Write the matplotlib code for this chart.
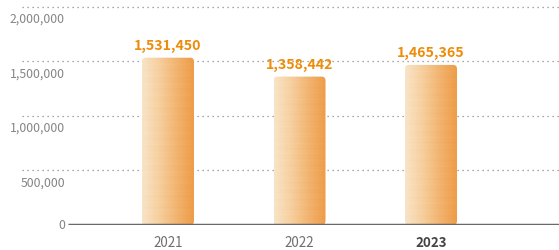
import numpy as np
import matplotlib
matplotlib.use("Agg")
import matplotlib.pyplot as plt
from matplotlib.patches import FancyBboxPatch
from matplotlib.colors import LinearSegmentedColormap

years = ["2021", "2022", "2023"]
values = [1531450, 1358442, 1465365]
value_labels = ["1,531,450", "1,358,442", "1,465,365"]
grid_values = [500000, 1000000, 1500000, 2000000]
grid_labels = ["500,000", "1,000,000", "1,500,000", "2,000,000"]

plt.rcParams["font.family"] = ["Noto Sans CJK KR", "DejaVu Sans"]

W, H = 559, 251
fig = plt.figure(figsize=(W / 100, H / 100), dpi=100)
# axes from x=22px to right edge, baseline at y=226px
ax = fig.add_axes([22 / W, 25 / H, 1 - 22 / W, 226 / H])
ymax = 226 / 218.5 * 2000000
ax.set_ylim(0, ymax)
ax.set_xlim(-146 / 131.5, (559 - 168) / 131.5)
ax.axis("off")

# dotted grid
for v in grid_values:
    ax.axhline(v, color="#8a8a8a", lw=0.9, linestyle=(0, (1, 3)), zorder=1)

# y labels sit a bit below their grid line
for v, lab in zip(grid_values, grid_labels):
    ax.annotate(lab, (65, v), xycoords=("figure pixels", "data"),
                xytext=(0, -8.5), textcoords="offset points",
                ha="right", va="center", fontsize=8.8, color="#858585")
ax.annotate("0", (65, 0), xycoords=("figure pixels", "data"),
            xytext=(0, 0), textcoords="offset points",
            ha="right", va="center", fontsize=8.8, color="#858585")

# baseline
ax.axhline(0, xmin=(68 - 22) / (W - 22), xmax=1, color="#6a6a6a", lw=2.5,
           zorder=4, solid_capstyle="butt")

x = np.arange(len(years))
bw = 52 / 131.5
bars = ax.bar(x, values, width=bw, color="none", zorder=2)

cmap = LinearSegmentedColormap.from_list(
    "peach", ["#f9e4c8", "#f6cf9e", "#f2b470", "#ee9c48"])
grad = np.linspace(0, 1, 200)[None, :].repeat(120, axis=0)
# faint horizontal texture
rows = np.arange(120)[:, None]
grad = np.clip(grad + 0.02 * np.sin(rows * 2.3) + 0.015 * np.sin(rows * 0.9), 0, 1)

# aspect for rounded corners (y units per x unit in display)
ypp = ymax / 226
xpp = 1 / 131.5
asp = ypp / xpp

for b in bars:
    x0, w, h = b.get_x(), b.get_width(), b.get_height()
    patch = FancyBboxPatch((x0, 0), w, h,
                           boxstyle="round,pad=0,rounding_size=%f" % (4 * xpp),
                           mutation_aspect=asp, facecolor="none",
                           edgecolor="none", zorder=2)
    ax.add_patch(patch)
    im = ax.imshow(grad, cmap=cmap, extent=(x0, x0 + w, 0, h), aspect="auto",
                   zorder=3, interpolation="bilinear")
    im.set_clip_path(patch)

ax.set_xlim(-146 / 131.5, (559 - 168) / 131.5)
ax.set_ylim(0, ymax)

for xi, v, lab in zip(x, values, value_labels):
    ax.annotate(lab, (xi, v), xytext=(0, 4), textcoords="offset points",
                ha="center", va="bottom", fontsize=10.2, fontweight="bold",
                color="#ee8c0a")

for xi, yr in zip(x, years):
    bold = yr == "2023"
    ax.annotate(yr, (xi, 0), xytext=(0, -12), textcoords="offset points",
                ha="center", va="center",
                fontsize=9.6,
                fontweight="bold" if bold else "normal",
                color="#444444" if bold else "#6e6e6e")

fig.savefig("out.png", dpi=100)
